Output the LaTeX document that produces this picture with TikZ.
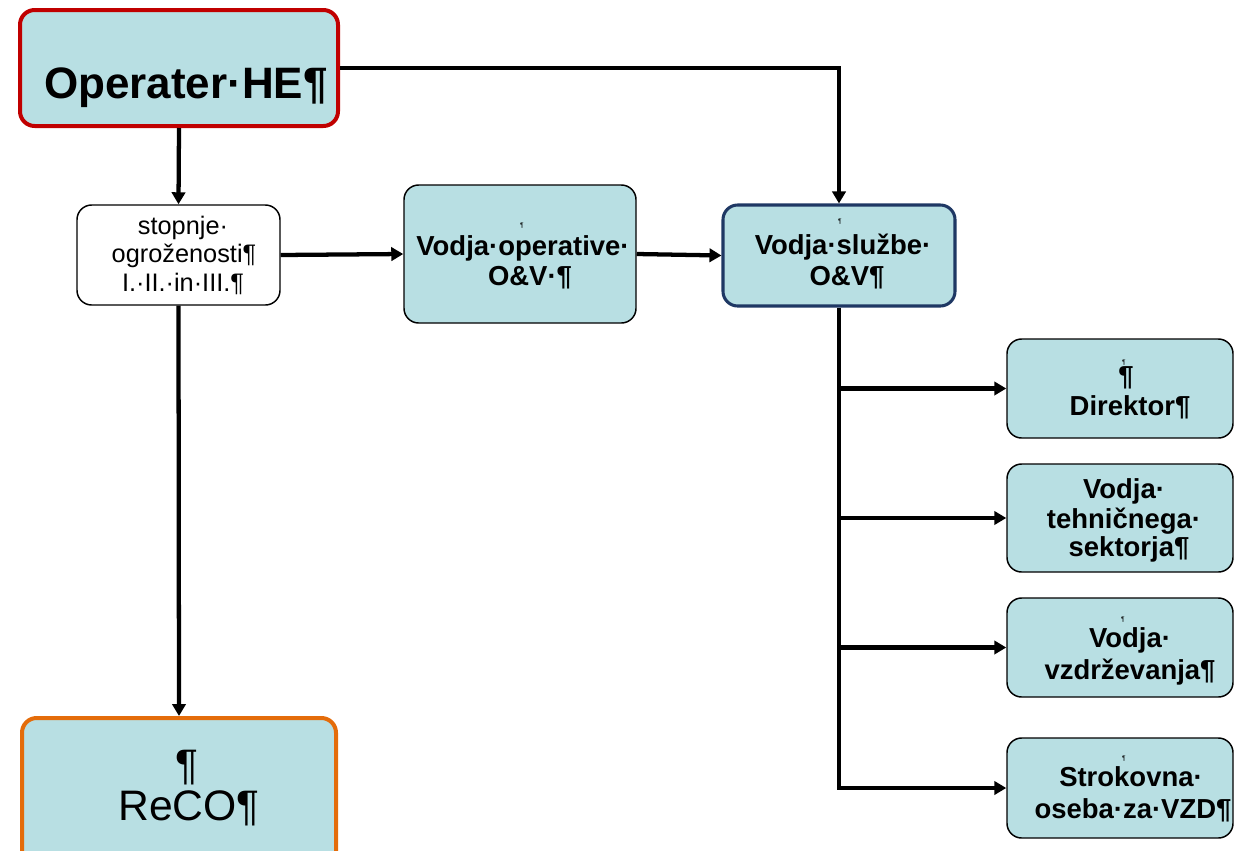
\documentclass[tikz,border=0pt]{standalone}
\usepackage{fontspec}
\setmainfont{Liberation Sans}
\usetikzlibrary{arrows.meta,fit}
\definecolor{boxblue}{HTML}{B8DFE3}
\definecolor{opred}{HTML}{C00000}
\definecolor{navy}{HTML}{1F3864}
\definecolor{recoorange}{HTML}{E46C0A}
\tikzset{
  basebox/.style={rounded corners=11pt, inner sep=0pt},
  bluebox/.style={basebox, fill=boxblue, draw=black, line width=1.1pt},
  whitebox/.style={basebox, fill=white, draw=black, line width=1.1pt},
  opbox/.style={basebox, fill=boxblue, draw=opred, line width=3pt},
  navybox/.style={bluebox, draw=navy, line width=2.3pt},
  recobox/.style={basebox, fill=boxblue, draw=recoorange, line width=3pt},
  txt/.style={anchor=base, inner sep=0pt, text=black},
  lab/.style={txt, font=\bfseries\fontsize{20.6}{22}\selectfont},
  plain/.style={txt, font=\fontsize{19}{21}\selectfont},
  big/.style={txt, font=\bfseries\fontsize{33}{38}\selectfont},
  bigplain/.style={txt, font=\fontsize{32}{32}\selectfont},
  tinypil/.style={txt, font=\fontsize{5}{6}\selectfont},
  conn/.style={line width=3.2pt, draw=black},
  arr/.style={conn, -{Triangle[length=9pt,width=10pt]}}
}
\begin{document}
\begin{tikzpicture}[x=0.75pt,y=-0.75pt]
\useasboundingbox (0,0) rectangle (1235,850);
% boxes
\node[opbox, fit={(20,10)(338,126)}] (op) {};
\node[whitebox, fit={(77,205)(280,305)}] (st) {};
\node[bluebox, fit={(404,185)(636,323)}] (vo) {};
\node[navybox, fit={(723,205)(955,306)}] (vs) {};
\node[bluebox, fit={(1007,339)(1233,438)}] (di) {};
\node[bluebox, fit={(1007,464)(1233,572)}] (te) {};
\node[bluebox, fit={(1007,598)(1233,697)}] (vz) {};
\node[bluebox, fit={(1007,738)(1233,838)}] (sk) {};
\node[recobox, fit={(22,718)(336,880)}] (re) {};
% texts
\node[big] (op-1) at (186,98) {Operater·HE¶};
\node[plain] (st-1) at (183,234) {stopnje·};
\node[plain] (st-2) at (184,262.5) {ogroženosti¶};
\node[plain] (st-3) at (183,291) {I.·II.·in·III.¶};
\node[tinypil] (vo-0) at (522,227) {¶};
\node[lab] (vo-1) at (523,255) {Vodja·operative·};
\node[lab] (vo-2) at (530,285) {O\&V·¶};
\node[tinypil] (vs-0) at (840,223) {¶};
\node[lab] (vs-1) at (843,254) {Vodja·službe·};
\node[lab] (vs-2) at (847,285) {O\&V¶};
\node[tinypil] (di-0) at (1124,364) {¶};
\node[lab] (di-1) at (1126,385) {¶};
\node[lab] (di-2) at (1130,415) {Direktor¶};
\node[lab] (te-1) at (1124,498) {Vodja·};
\node[lab] (te-2) at (1124,528) {tehničnega·};
\node[lab] (te-3) at (1129,556) {sektorja¶};
\node[tinypil] (vz-0) at (1123,621) {¶};
\node[lab] (vz-1) at (1130,647) {Vodja·};
\node[lab] (vz-2) at (1130,679) {vzdrževanja¶};
\node[tinypil] (sk-0) at (1124,760) {¶};
\node[lab] (sk-1) at (1131,786) {Strokovna·};
\node[lab] (sk-2) at (1133,818) {oseba·za·VZD¶};
\node[bigplain] (re-1) at (187,779) {¶};
\node[bigplain] (re-2) at (189,820) {ReCO¶};
% connectors
\draw[arr] (op.east) -| (vs.north);
\draw[arr] (op.south) -- (st.north);
\draw[arr] (st.east) -- (vo.west);
\draw[arr] (vo.east) -- (vs.west);
\draw[arr] (st.south) -- (re.north);
\draw[arr] (vs.south) |- (sk.west);
\draw[arr] (vs.south |- di.west) -- (di.west);
\draw[arr] (vs.south |- te.west) -- (te.west);
\draw[arr] (vs.south |- vz.west) -- (vz.west);
\end{tikzpicture}
\end{document}
